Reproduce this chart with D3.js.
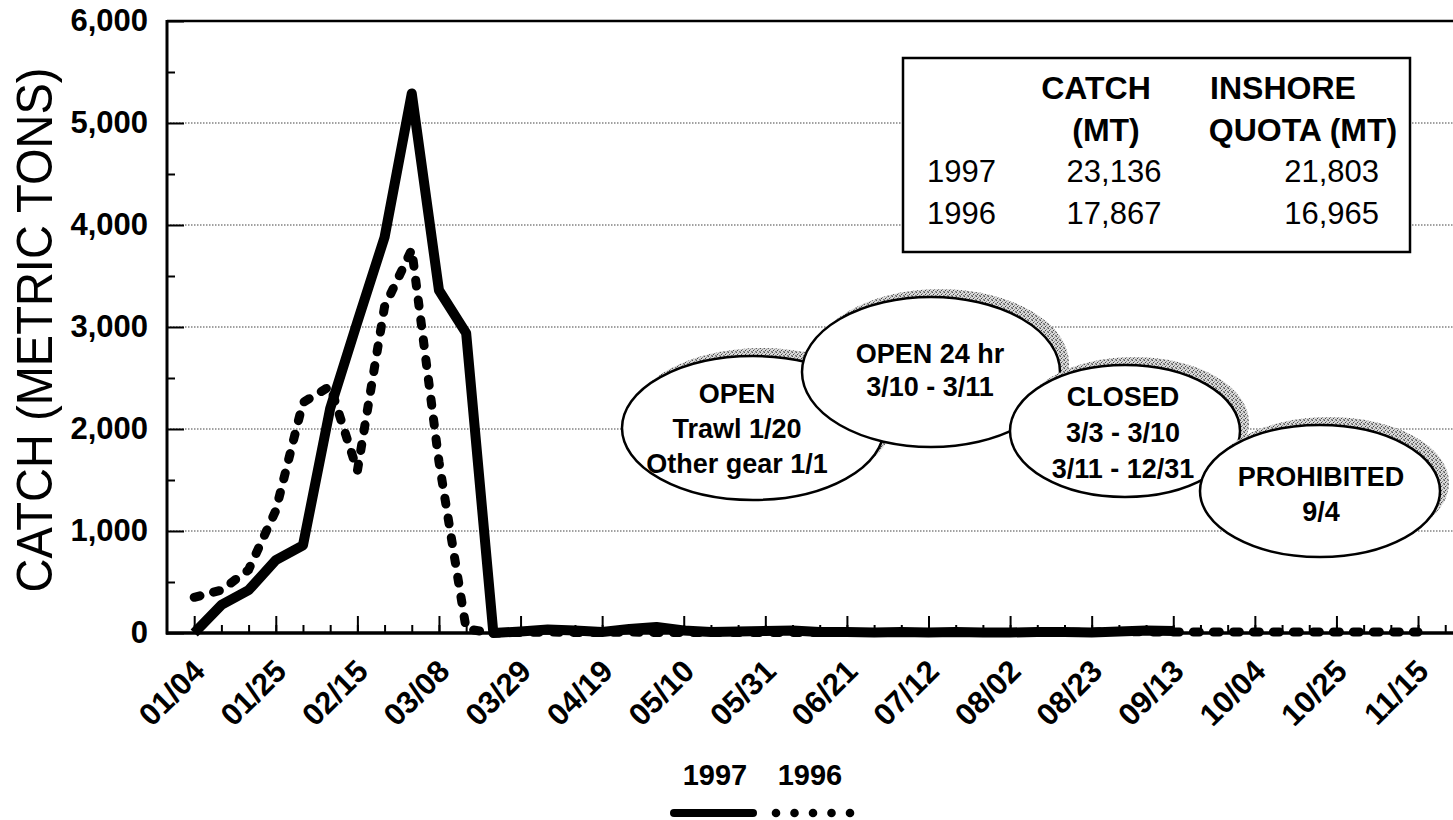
<!DOCTYPE html>
<html>
<head>
<meta charset="utf-8">
<script src="https://cdn.jsdelivr.net/npm/d3@7"></script>
<style>
  body { margin: 0; background: #fff; }
  svg { display: block; }
  text { font-family: "Liberation Sans", Arial, sans-serif; fill: #000; }
</style>
</head>
<body>
<div class="chart"></div>
<script>
// weekly catch (metric tons), first week 01/04
const catch1997 = [0, 275, 420, 715, 860, 2200, 3050, 3880, 5290, 3360, 2940, 0,
    15, 35, 25, 10, 40, 60, 25, 10, 15, 20, 25, 10, 10, 5, 10, 5, 10, 5, 5, 10, 10, 5, 15, 25, 20];
const catch1996 = [350, 420, 620, 1200, 2260, 2420, 1590, 3200, 3760, 1680, 40, 0,
    5, 10, 5, 5, 10, 5, 5, 5, 5, 5, 5, 5, 5, 5, 5, 5, 5, 5, 5, 5, 5, 10, 15, 10,
    10, 10, 10, 10, 10, 10, 10, 10, 10, 10];
const tickLabels = ['01/04', '01/25', '02/15', '03/08', '03/29', '04/19', '05/10', '05/31',
    '06/21', '07/12', '08/02', '08/23', '09/13', '10/04', '10/25', '11/15'];
const yTicks = [0, 1000, 2000, 3000, 4000, 5000, 6000];
const years = ['1997', '1996'];

// summary table
const tableHead = [['CATCH', 'INSHORE'], ['(MT)', 'QUOTA (MT)']];
const tableRows = [['1997', '23,136', '21,803'], ['1996', '17,867', '16,965']];

// season bubbles
const bubbles = [
    {lines: ['OPEN', 'Trawl 1/20', 'Other gear 1/1']},
    {lines: ['OPEN 24 hr', '3/10 - 3/11']},
    {lines: ['CLOSED', '3/3 - 3/10', '3/11 - 12/31']},
    {lines: ['PROHIBITED', '9/4']}
];

const W = 1453, H = 820;
const FONT = '"Liberation Sans", Arial, sans-serif';
const svg = d3.select('.chart').append('svg')
    .attr('width', W)
    .attr('height', H);

const parse = d3.timeParse('%Y/%m/%d');
const start = parse('1997/01/04');
const weekDate = i => d3.timeDay.offset(start, 7 * i);

//scales
const x = d3.scaleTime()
    .domain([parse('1996/12/28'), parse('1997/11/24')])
    .range([167, 1453]);
const y = d3.scaleLinear()
    .domain([0, 6000])
    .range([633, 21]);

// stipple for bubble shadows
const pat = svg.append('defs').append('pattern')
    .attr('id', 'stip')
    .attr('width', 4).attr('height', 4)
    .attr('patternUnits', 'userSpaceOnUse');
pat.append('rect').attr('width', 4).attr('height', 4).attr('fill', '#d8d8d8');
[[0, 0, '#555'], [2, 1, '#888'], [1, 2, '#444'], [3, 3, '#777'], [3, 0, '#aaa'], [0, 3, '#999']].forEach(p => {
    pat.append('rect').attr('x', p[0]).attr('y', p[1]).attr('width', 1).attr('height', 1).attr('fill', p[2]);
});

//gridlines
svg.append('g').selectAll('line')
    .data(yTicks.slice(1, -1))
    .enter().append('line')
    .attr('x1', 167).attr('x2', W)
    .attr('y1', d => y(d)).attr('y2', d => y(d))
    .attr('stroke', '#444')
    .attr('stroke-width', 1.2)
    .attr('stroke-dasharray', '1.5 1.5');

svg.append('line')
    .attr('x1', 167).attr('x2', W)
    .attr('y1', y(6000)).attr('y2', y(6000))
    .attr('stroke', '#000').attr('stroke-width', 2.5);

// summary box
const box = svg.append('g');
box.append('rect')
    .attr('x', 903).attr('y', 58)
    .attr('width', 507).attr('height', 194)
    .attr('fill', '#fff')
    .attr('stroke', '#000').attr('stroke-width', 2.5);
const headX = [[1096, 1283], [1106, 1303]];
tableHead.forEach((row, i) => {
    row.forEach((t, j) => {
        box.append('text').attr('x', headX[i][j]).attr('y', 99 + i * 42)
            .attr('text-anchor', 'middle').attr('font-size', 32).attr('font-weight', 'bold').text(t);
    });
});
tableRows.forEach((row, i) => {
    const ty = 182 + i * 42;
    box.append('text').attr('x', 927).attr('y', ty).attr('font-size', 31).text(row[0]);
    box.append('text').attr('x', 1114).attr('y', ty).attr('text-anchor', 'middle').attr('font-size', 31).text(row[1]);
    box.append('text').attr('x', 1379).attr('y', ty).attr('text-anchor', 'end').attr('font-size', 31).text(row[2]);
});

// bubbles
const bubblePos = [
    {cx: 753, cy: 428, rx: 131, ry: 72, tx: 737, ty: [393, 428, 463]},
    {cx: 931, cy: 372, rx: 129, ry: 75, tx: 930, ty: [353, 386]},
    {cx: 1125, cy: 431, rx: 115, ry: 66, tx: 1123, ty: [396, 432, 468]},
    {cx: 1320, cy: 491, rx: 120, ry: 66, tx: 1321, ty: [476, 511]}
];
bubbles.forEach((b, i) => {
    const p = bubblePos[i];
    const g = svg.append('g');
    g.append('ellipse')
        .attr('cx', p.cx + 9).attr('cy', p.cy - 8)
        .attr('rx', p.rx).attr('ry', p.ry)
        .attr('fill', 'url(#stip)');
    g.append('ellipse')
        .attr('cx', p.cx).attr('cy', p.cy)
        .attr('rx', p.rx).attr('ry', p.ry)
        .attr('fill', '#fff')
        .attr('stroke', '#000').attr('stroke-width', 2.5);
    b.lines.forEach((t, j) => {
        g.append('text')
            .attr('x', p.tx).attr('y', p.ty[j])
            .attr('dy', '0.36em')
            .attr('text-anchor', 'middle')
            .attr('font-size', 27)
            .attr('font-weight', 'bold')
            .text(t);
    });
});

//lines
const line = d3.line()
    .x((d, i) => x(weekDate(i)))
    .y(d => y(d));

svg.append('path')
    .datum(catch1996)
    .attr('d', line)
    .attr('fill', 'none')
    .attr('stroke', '#000')
    .attr('stroke-width', 9)
    .attr('stroke-linecap', 'round')
    .attr('stroke-dasharray', '6 14');

svg.append('path')
    .datum(catch1997)
    .attr('d', line)
    .attr('fill', 'none')
    .attr('stroke', '#000')
    .attr('stroke-width', 10)
    .attr('stroke-linejoin', 'round');

//axes
const labelDates = tickLabels.map(t => parse('1997/' + t));
const weekTicks = d3.range(0, 47).map(weekDate);

const xMinor = d3.axisBottom(x).tickValues(weekTicks).tickSize(-8).tickFormat('');
const xMajor = d3.axisBottom(x).tickValues(labelDates).tickSize(-17).tickFormat(d3.timeFormat('%m/%d'));

svg.append('g')
    .attr('transform', 'translate(0,' + y(0) + ')')
    .call(xMinor)
    .call(g => g.select('.domain').remove())
    .call(g => g.selectAll('line').attr('stroke-width', 2));

const gx = svg.append('g')
    .attr('transform', 'translate(0,' + y(0) + ')')
    .call(xMajor);
gx.select('.domain').remove();
gx.selectAll('line').attr('stroke-width', 2);
gx.selectAll('text')
    .attr('x', 0).attr('y', 0).attr('dy', 0)
    .attr('transform', 'translate(12,40) rotate(-45)')
    .attr('text-anchor', 'end')
    .attr('font-family', FONT)
    .attr('font-size', 31)
    .attr('font-weight', 'bold');

const yMinor = d3.axisLeft(y).tickValues(d3.range(500, 6000, 1000)).tickSize(-8).tickFormat('');
const yMajor = d3.axisLeft(y).tickValues(yTicks).tickSize(-17).tickPadding(19).tickFormat(d3.format(','));

svg.append('g')
    .attr('transform', 'translate(167,0)')
    .call(yMinor)
    .call(g => g.select('.domain').remove())
    .call(g => g.selectAll('line').attr('stroke-width', 2));

const gy = svg.append('g')
    .attr('transform', 'translate(167,0)')
    .call(yMajor);
gy.select('.domain').remove();
gy.selectAll('line').attr('stroke-width', 2);
gy.selectAll('text')
    .attr('font-family', FONT)
    .attr('font-size', 31)
    .attr('font-weight', 'bold');

// axis lines
svg.append('line')
    .attr('x1', 167).attr('x2', 167)
    .attr('y1', y(6000) - 1).attr('y2', y(0) + 1.5)
    .attr('stroke', '#000').attr('stroke-width', 3);
svg.append('line')
    .attr('x1', 166).attr('x2', W)
    .attr('y1', y(0)).attr('y2', y(0))
    .attr('stroke', '#000').attr('stroke-width', 3.5);

// axis title
svg.append('text')
    .attr('transform', 'translate(52,330) rotate(-90)')
    .attr('text-anchor', 'middle')
    .attr('font-size', 50)
    .attr('textLength', 525)
    .attr('lengthAdjust', 'spacingAndGlyphs')
    .text('CATCH (METRIC TONS)');

//legend
const legend = svg.append('g');
legend.selectAll('.legend-text')
    .data(years)
    .enter().append('text')
    .attr('x', (d, i) => 715 + i * 95)
    .attr('y', 785)
    .attr('text-anchor', 'middle')
    .attr('font-size', 29)
    .attr('font-weight', 'bold')
    .text(d => d);
legend.append('line')
    .attr('x1', 674).attr('x2', 753)
    .attr('y1', 813).attr('y2', 813)
    .attr('stroke', '#000').attr('stroke-width', 8)
    .attr('stroke-linecap', 'round');
legend.selectAll('.legend-dot')
    .data(d3.range(5))
    .enter().append('circle')
    .attr('cx', d => 776 + d * 18.5)
    .attr('cy', 813)
    .attr('r', 4.3)
    .attr('fill', '#000');
</script>
</body>
</html>
